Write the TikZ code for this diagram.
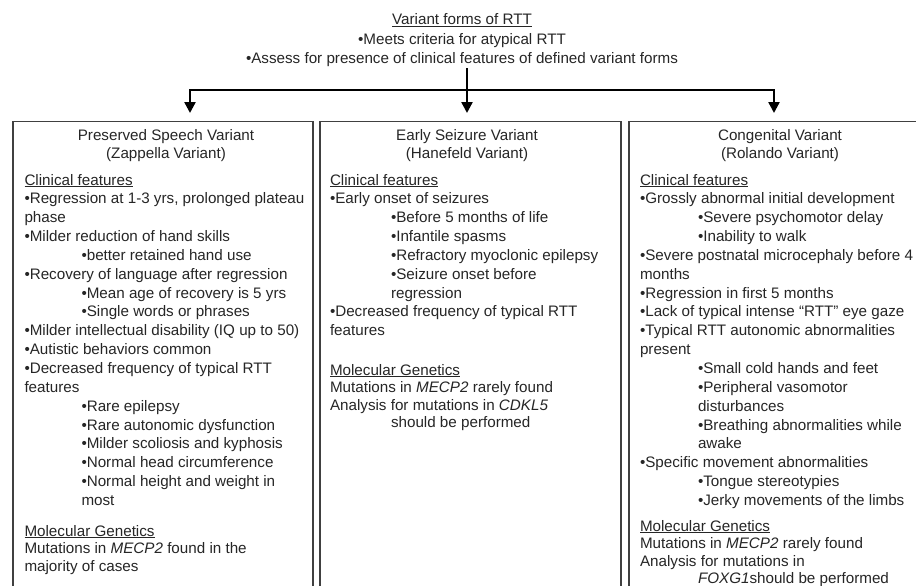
\documentclass[tikz,border=0pt]{standalone}
\usepackage{fontspec}
\setmainfont{Liberation Sans}
\usetikzlibrary{arrows.meta}
\newcommand\tblock[2]{\vtop{\baselineskip=#1\lineskiplimit=-30pt\lineskip=0pt\halign{##\hfil\cr#2\crcr}}}
\newcommand\cblock[2]{\vtop{\baselineskip=#1\lineskiplimit=-30pt\lineskip=0pt\halign{\hfil##\hfil\cr#2\crcr}}}
\newcommand\subi[1]{\hskip#1\relax}
\begin{document}
\begin{tikzpicture}[x=1pt,y=-1pt,
  every node/.style={inner sep=0pt, outer sep=0pt, text=black!85,
    font=\fontsize{15.2}{18.85}\selectfont},
  box/.style={draw=black!75, line width=1.7pt, rectangle, anchor=north west},
  conn/.style={draw=black, line width=2.4pt, line join=miter},
  tip/.style={-{Triangle[width=11pt,length=11pt]}}
]
\useasboundingbox[fill=white] (0,0) rectangle (916,586);

% boxes (bottoms run past the picture)
\begin{scope}
\clip (0,0) rectangle (916,586);
\node[box, minimum width=300.6pt, minimum height=620pt] (bL) at (12.7,121.5) {};
\node[box, minimum width=301pt, minimum height=620pt] (bM) at (320,121.5) {};
\node[box, minimum width=310pt, minimum height=620pt] (bR) at (629,121.5) {};
\end{scope}

% title
\node[anchor=base] (title) at (462,25) {\cblock{19.2pt}{\underline{Variant forms of RTT}\cr
•Meets criteria for atypical RTT\cr
•Assess for presence of clinical features of defined variant forms}};

% connectors
\coordinate (hub) at (467,90);
\coordinate (hl) at (190,90);
\coordinate (hr) at (774,90);
\coordinate (tL) at (190,113);
\coordinate (tM) at (467,113);
\coordinate (tR) at (774,113);
\draw[conn, {Triangle[width=11pt,length=11pt]}-{Triangle[width=11pt,length=11pt]}] (tL) -- (hl) -- (hr) -- (tR);
\draw[conn, tip] ([yshift=-1.5pt]title.south -| hub) -- (tM);

% headings
\node[anchor=base] (hL) at (166,140) {\cblock{18pt}{Preserved Speech Variant\cr(Zappella Variant)}};
\node[anchor=base] (hM) at (467,140) {\cblock{18pt}{Early Seizure Variant\cr(Hanefeld Variant)}};
\node[anchor=base] (hR) at (780,140) {\cblock{18pt}{Congenital Variant\cr(Rolando Variant)}};

% left box
\node[anchor=base west] (cL) at (24.5,185) {\tblock{18.85pt}{\underline{Clinical features}\cr
•Regression at 1-3 yrs, prolonged plateau\cr
phase\cr
•Milder reduction of hand skills\cr
\subi{57pt}•better retained hand use\cr
•Recovery of language after regression\cr
\subi{57pt}•Mean age of recovery is 5 yrs\cr
\subi{57pt}•Single words or phrases\cr
•Milder intellectual disability (IQ up to 50)\cr
•Autistic behaviors common\cr
•Decreased frequency of typical RTT\cr
features\cr
\subi{57pt}•Rare epilepsy\cr
\subi{57pt}•Rare autonomic dysfunction\cr
\subi{57pt}•Milder scoliosis and kyphosis\cr
\subi{57pt}•Normal head circumference\cr
\subi{57pt}•Normal height and weight in\cr
\subi{57pt}most}};
\node[anchor=base west] (gL) at (24.5,536) {\tblock{17.6pt}{\underline{Molecular Genetics}\cr
Mutations in \textit{MECP2} found in the\cr
majority of cases}};

% middle box
\node[anchor=base west] (cM) at (330,185) {\tblock{18.85pt}{\underline{Clinical features}\cr
•Early onset of seizures\cr
\subi{61pt}•Before 5 months of life\cr
\subi{61pt}•Infantile spasms\cr
\subi{61pt}•Refractory myoclonic epilepsy\cr
\subi{61pt}•Seizure onset before\cr
\subi{61pt}regression\cr
•Decreased frequency of typical RTT\cr
features}};
\node[anchor=base west] (gM) at (330,375) {\tblock{17.6pt}{\underline{Molecular Genetics}\cr
Mutations in \textit{MECP2} rarely found\cr
Analysis for mutations in \textit{CDKL5}\cr
\subi{61pt}should be performed}};

% right box
\node[anchor=base west] (cR) at (640,185) {\tblock{18.85pt}{\underline{Clinical features}\cr
•Grossly abnormal initial development\cr
\subi{58pt}•Severe psychomotor delay\cr
\subi{58pt}•Inability to walk\cr
•Severe postnatal microcephaly before 4\cr
months\cr
•Regression in first 5 months\cr
•Lack of typical intense “RTT” eye gaze\cr
•Typical RTT autonomic abnormalities\cr
present\cr
\subi{58pt}•Small cold hands and feet\cr
\subi{58pt}•Peripheral vasomotor\cr
\subi{58pt}disturbances\cr
\subi{58pt}•Breathing abnormalities while\cr
\subi{58pt}awake\cr
•Specific movement abnormalities\cr
\subi{58pt}•Tongue stereotypies\cr
\subi{58pt}•Jerky movements of the limbs}};
\node[anchor=base west] (gR) at (640,531) {\tblock{17.6pt}{\underline{Molecular Genetics}\cr
Mutations in \textit{MECP2} rarely found\cr
Analysis for mutations in\cr
\subi{58pt}\textit{FOXG1}should be performed}};
\end{tikzpicture}
\end{document}
